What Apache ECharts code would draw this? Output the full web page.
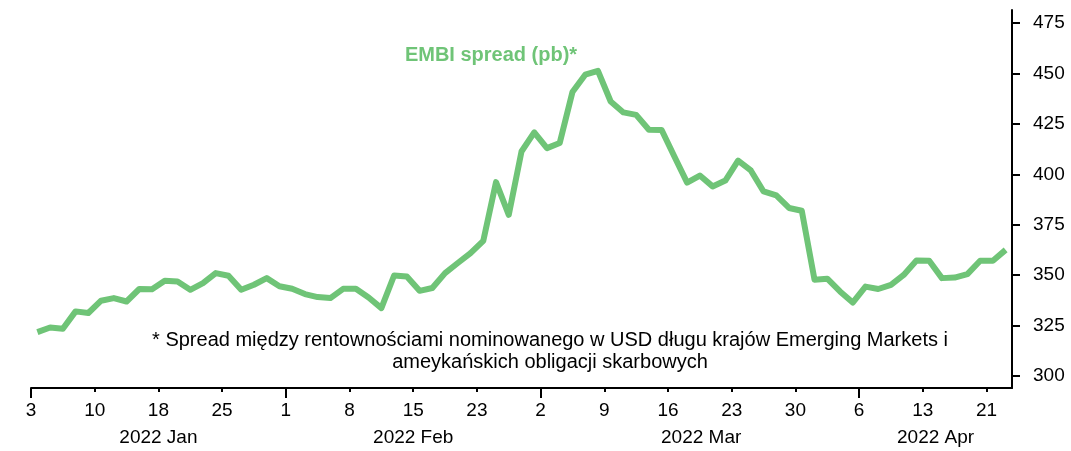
<!DOCTYPE html>
<html>
<head>
<meta charset="utf-8">
<script src="https://cdn.jsdelivr.net/npm/echarts@6/dist/echarts.min.js"></script>
<style>
  html, body { margin: 0; padding: 0; background: #fff; }
  #chart { width: 1071px; height: 451px; }
</style>
</head>
<body>
<div id="chart"></div>
<script>
// EMBI spread, business days 2022-01-03 .. 2022-04-22
var spread = [
  321.7, 324, 323.4, 332, 331.2, 337.3, 338.6, 336.9, 343.1, 343,
  347.2, 346.8, 342.7, 346, 351, 349.7, 342.7, 345.2, 348.5, 344.5,
  343.2, 340.6, 339.1, 338.6, 343.2, 343.2, 338.9, 333.6, 349.8, 349.3,
  342.2, 343.6, 351, 356, 360.9, 367, 396.1, 379.9, 411.3, 420.8,
  413, 415.5, 440.8, 449.4, 451.3, 436.1, 430.7, 429.5, 422.1, 422,
  408.8, 395.9, 399.4, 394, 396.9, 406.8, 401.9, 391.5, 389.5, 383.3,
  381.9, 347.7, 348.2, 341.9, 336.4, 344.3, 343.1, 345.2, 350.1, 357.2,
  357.1, 348.5, 348.8, 350.5, 357.1, 357.1, 362.5
];
// tick every 5 business days
var dayLabels = ['3', '10', '18', '25', '1', '8', '15', '23', '2', '9', '16', '23', '30', '6', '13', '21'];
var monthLabels = ['2022 Jan', '2022 Feb', '2022 Mar', '2022 Apr'];
var monthPos = [10, 30, 52.6, 71];      // where the month names sit (in days)
var monthStart = [0, 20, 40, 65];       // long ticks
var yTicks = [300, 325, 350, 375, 400, 425, 450, 475];

var tickPos = dayLabels.map(function (d, i) { return i * 5; });
var font = 'Liberation Sans, Arial, sans-serif';

function makeOption() {
  var option = {
    animation: false,
    grid: { left: 31, right: 59, top: 10, bottom: 63 },
    xAxis: [
      {
        type: 'value', min: 0, max: spread.length, position: 'bottom',
        splitLine: { show: false },
        axisLine: { onZero: false, lineStyle: { color: '#000', width: 2 } },
        axisTick: { customValues: tickPos, length: 4, lineStyle: { color: '#000', width: 2 } },
        axisLabel: {
          customValues: tickPos, margin: 13, color: '#000', fontSize: 19, fontFamily: font,
          formatter: function (v) { return dayLabels[Math.round(v / 5)]; }
        }
      },
      {
        type: 'value', min: 0, max: spread.length, position: 'bottom',
        splitLine: { show: false },
        axisLine: { show: false, onZero: false },
        axisTick: { customValues: monthStart, length: 10, lineStyle: { color: '#000', width: 2 } },
        axisLabel: {
          customValues: monthPos, margin: 40, color: '#000', fontSize: 19, fontFamily: font,
          formatter: function (v) { return monthLabels[monthPos.indexOf(v)]; }
        }
      }
    ],
    yAxis: {
      type: 'value', position: 'right', min: 294, max: 481.5,
      splitLine: { show: false },
      axisLine: { show: true, onZero: false, lineStyle: { color: '#000', width: 2 } },
      axisTick: { show: true, customValues: yTicks, length: 8, lineStyle: { color: '#000', width: 2 } },
      axisLabel: { customValues: yTicks, margin: 21, color: '#000', fontSize: 19, fontFamily: font }
    },
    graphic: [
      {
        type: 'text', x: 491, y: 55,
        style: {
          text: 'EMBI spread (pb)*', fill: '#6fc477', fontSize: 20, fontWeight: 'bold',
          fontFamily: font, textAlign: 'center', textVerticalAlign: 'middle'
        }
      },
      {
        type: 'text', x: 550, y: 351,
        style: {
          text: '* Spread między rentownościami nominowanego w USD długu krajów Emerging Markets i\nameykańskich obligacji skarbowych',
          fill: '#000', fontSize: 20, lineHeight: 22, fontFamily: font,
          textAlign: 'center', textVerticalAlign: 'middle'
        }
      }
    ],
    series: [
      {
        type: 'line', xAxisIndex: 0, showSymbol: false,
        data: spread.map(function (v, i) { return [i + 0.5, v]; }),
        lineStyle: { color: '#6fc477', width: 6, join: 'round' }
      }
    ]
  };
  return option;
}

var myChart = echarts.init(document.getElementById('chart'));
myChart.setOption(makeOption());
</script>
</body>
</html>
